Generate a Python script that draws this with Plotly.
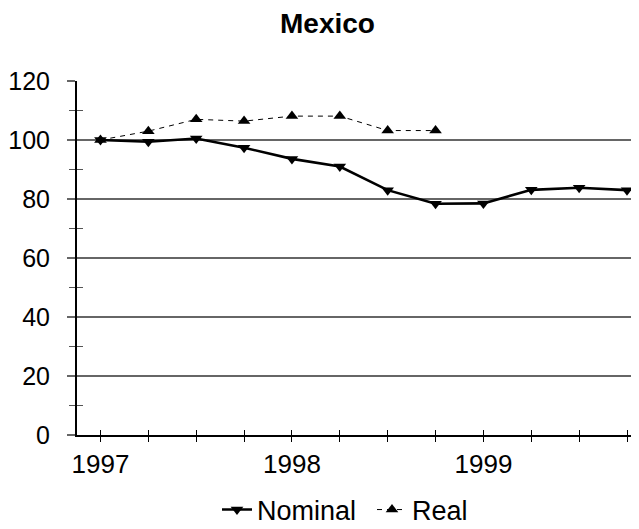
import plotly.graph_objects as go

quarters = ["1997Q1", "1997Q2", "1997Q3", "1997Q4",
            "1998Q1", "1998Q2", "1998Q3", "1998Q4",
            "1999Q1", "1999Q2", "1999Q3", "1999Q4"]
tick_text = ["1997", "", "", "", "1998", "", "", "", "1999", "", "", ""]
nominal = [100.0, 99.4, 100.5, 97.4, 93.6, 91.0, 83.0, 78.4, 78.5, 83.1, 83.8, 83.0]
real = [100.0, 103.0, 107.0, 106.4, 108.1, 108.1, 103.2, 103.2]

idx = list(range(len(quarters)))
FONT = "Liberation Sans, Arial, sans-serif"
OFF = 8  # page body margin offset compensation

W, H = 639, 529

fig = go.Figure()
fig.add_trace(go.Scatter(
    x=idx, y=nominal, name="Nominal", mode="lines+markers",
    line=dict(color="black", width=2.6),
    marker=dict(symbol="triangle-down", size=11, color="black"),
))
fig.add_trace(go.Scatter(
    x=idx[:len(real)], y=real, name="Real", mode="lines+markers",
    line=dict(color="black", width=1, dash="5px,5px"),
    marker=dict(symbol="triangle-up", size=11, color="black"),
))
# invisible trace to enable the overlaid axes (inside ticks -> cross ticks)
fig.add_trace(go.Scatter(x=idx, y=nominal, xaxis="x2", yaxis="y2",
                         mode="none", showlegend=False, hoverinfo="skip"))

fig.update_layout(
    width=W, height=H,
    paper_bgcolor="white", plot_bgcolor="white",
    margin=dict(l=77 - OFF, r=OFF, t=81 - OFF, b=H - (435 - OFF), autoexpand=False),
    font=dict(family=FONT, color="black", size=25),
    title=dict(text="<b>Mexico</b>", x=(327.5 - OFF) / W, xanchor="center",
               xref="container", yref="container",
               y=1 - (23 - OFF) / H, yanchor="middle",
               font=dict(family=FONT, size=28, color="black")),
    showlegend=True,
    legend=dict(orientation="h", xref="container", yref="container",
                x=(217 - OFF) / W, xanchor="left",
                y=1 - (510 - OFF) / H, yanchor="middle",
                font=dict(family=FONT, size=27, color="black"),
                entrywidth=110, entrywidthmode="pixels",
                bgcolor="rgba(0,0,0,0)", itemwidth=30, tracegroupgap=0),
    xaxis=dict(
        range=[-0.49, 11.25], tickmode="array", tickvals=idx, ticktext=tick_text,
        automargin=False,
        showgrid=False, zeroline=False, showline=True, linecolor="black", linewidth=2,
        ticks="outside", ticklen=5, tickwidth=1, tickcolor="black",
        tickfont=dict(family=FONT, size=26, color="black"),
    ),
    xaxis2=dict(
        overlaying="x", matches="x", tickmode="array", tickvals=idx,
        automargin=False,
        showticklabels=False, showgrid=False, zeroline=False, showline=False,
        ticks="inside", ticklen=5, tickwidth=1, tickcolor="black",
        anchor="y",
    ),
    yaxis=dict(
        range=[0, 120], tickmode="array", tickvals=[0, 20, 40, 60, 80, 100, 120],
        automargin=False,
        showgrid=True, gridcolor="#666666", gridwidth=1.8,
        zeroline=False, showline=True, linecolor="black", linewidth=2,
        ticks="outside", ticklen=8, tickwidth=1.5, tickcolor="#666666",
        ticklabelstandoff=12,
        tickfont=dict(family=FONT, size=25, color="black"),
        minor=dict(tickmode="array", tickvals=[10, 30, 50, 70, 90, 110],
                   ticks="outside", ticklen=6, tickcolor="#555555", tickwidth=1,
                   showgrid=False),
    ),
    yaxis2=dict(
        overlaying="y", matches="y", showticklabels=False, showgrid=False,
        automargin=False,
        zeroline=False, showline=False, anchor="x",
        tickmode="array", tickvals=[10, 30, 50, 70, 90, 110],
        ticks="inside", ticklen=6, tickcolor="#555555", tickwidth=1,
    ),
)

fig.write_html("out.html")
